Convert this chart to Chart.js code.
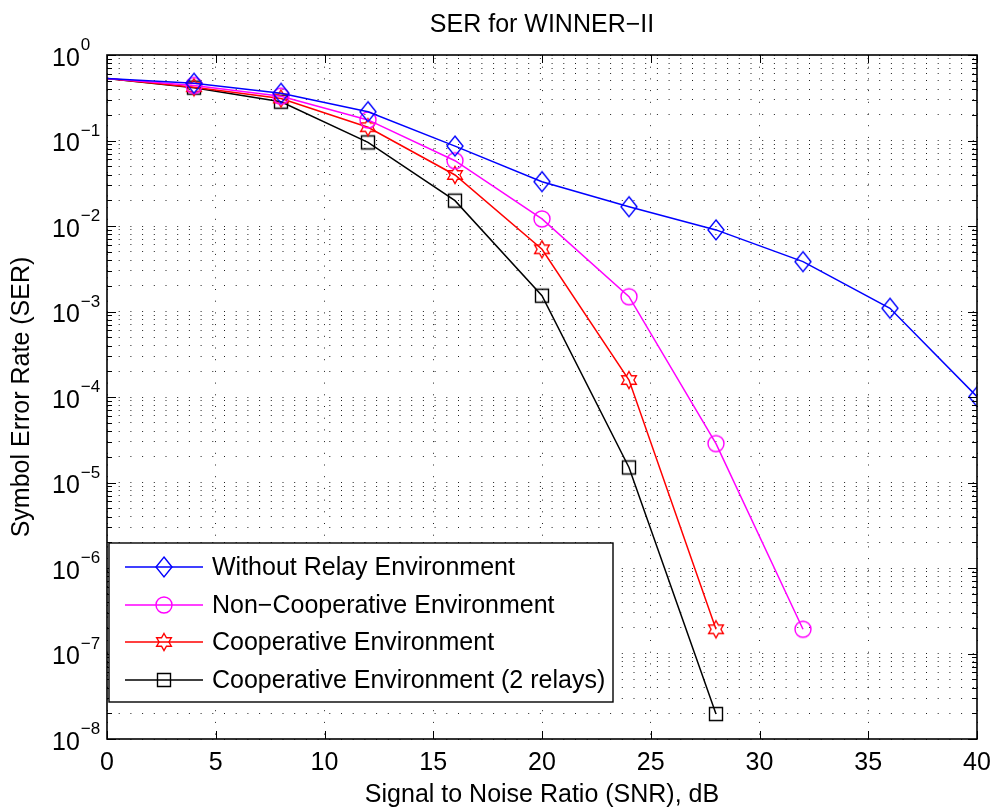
<!DOCTYPE html>
<html>
<head>
<meta charset="utf-8">
<script src="https://cdn.jsdelivr.net/npm/chart.js@4.4.1/dist/chart.umd.min.js"></script>
<style>
  html, body { margin: 0; padding: 0; background: #fff; }
  #wrap { width: 994px; height: 810px; }
</style>
</head>
<body>
<div id="wrap"><canvas id="ser" width="994" height="810"></canvas></div>
<script>
// SNR points (dB)
const snr = [0, 4, 8, 12, 16, 20, 24, 28, 32, 36, 40];

// SER
const serWithoutRelay = [0.53, 0.467, 0.356, 0.217, 0.086, 0.033, 0.0168, 0.0090, 0.00383, 0.00109, 1.01e-4];
const serNonCoop = [0.53, 0.44, 0.33, 0.174, 0.058, 0.0121, 0.00149, 2.85e-5, 1.92e-7];
const serCoop = [0.53, 0.42, 0.31, 0.143, 0.0395, 0.00534, 1.58e-4, 1.92e-7];
const serCoop2Relays = [0.53, 0.415, 0.284, 0.095, 0.0198, 0.00153, 1.5e-5, 1.96e-8];

const seriesLabels = [
  "Without Relay Environment",
  "Non\u2212Cooperative Environment",
  "Cooperative Environment",
  "Cooperative Environment (2 relays)"
];
const seriesColors = ["#0000ff", "#ff00ff", "#ff0000", "#000000"];
const xTicks = [0, 5, 10, 15, 20, 25, 30, 35, 40];
const yDecades = [-8, -7, -6, -5, -4, -3, -2, -1, 0];
const chartTitle = "SER for WINNER\u2212II";

const FONT = '"Liberation Sans", Arial, Helvetica, sans-serif';

// marker images (MATLAB style: diamond, circle, hexagram, square)
function makeMarker(shape, color) {
  const c = document.createElement("canvas");
  c.width = 24; c.height = 24;
  const g = c.getContext("2d");
  g.strokeStyle = color;
  g.lineWidth = 1.4;
  g.beginPath();
  if (shape === "diamond") {
    g.moveTo(12, 2); g.lineTo(20, 12); g.lineTo(12, 22); g.lineTo(4, 12); g.closePath();
  } else if (shape === "circle") {
    g.arc(12, 12, 8, 0, Math.PI * 2);
  } else if (shape === "hexagram") {
    const ro = 8.5, ri = ro / Math.sqrt(3);
    for (let i = 0; i < 12; i++) {
      const a = -Math.PI / 2 + i * Math.PI / 6;
      const r = i % 2 === 0 ? ro : ri;
      const px = 12 + r * Math.cos(a), py = 12 + r * Math.sin(a);
      if (i === 0) g.moveTo(px, py); else g.lineTo(px, py);
    }
    g.closePath();
  } else {
    g.rect(5.5, 5.5, 13, 13);
  }
  g.stroke();
  return c;
}

const markers = [
  makeMarker("diamond", seriesColors[0]),
  makeMarker("circle", seriesColors[1]),
  makeMarker("hexagram", seriesColors[2]),
  makeMarker("square", seriesColors[3])
];

function toPoints(values) {
  return values.map((v, i) => ({ x: snr[i], y: v }));
}

const allSeries = [serWithoutRelay, serNonCoop, serCoop, serCoop2Relays];

// all log ticks: 1..9 x 10^n
const logTicks = [];
yDecades.forEach(d => {
  for (let m = 1; m <= 9; m++) {
    if (d === 0 && m > 1) break;
    logTicks.push(m * Math.pow(10, d));
  }
});

const boxAndLegend = {
  id: "boxAndLegend",
  afterDraw(chart) {
    const ctx = chart.ctx;
    const a = chart.chartArea;
    const xs = chart.scales.x, ys = chart.scales.y;
    ctx.save();

    // title, centred over the axes
    ctx.fillStyle = "#000";
    ctx.font = "25px " + FONT;
    ctx.textAlign = "center";
    ctx.textBaseline = "middle";
    ctx.fillText(chartTitle, (a.left + a.right) / 2, 25);

    // axes box
    ctx.strokeStyle = "#000";
    ctx.lineWidth = 1.6;
    ctx.strokeRect(a.left, a.top, a.right - a.left, a.bottom - a.top);

    // inward ticks
    ctx.lineWidth = 1;
    ctx.beginPath();
    xTicks.forEach(t => {
      const px = Math.round(xs.getPixelForValue(t)) + 0.5;
      ctx.moveTo(px, a.bottom); ctx.lineTo(px, a.bottom - 8);
      ctx.moveTo(px, a.top); ctx.lineTo(px, a.top + 8);
    });
    logTicks.forEach(v => {
      const py = Math.round(ys.getPixelForValue(v)) + 0.5;
      const major = Math.abs(Math.log10(v) - Math.round(Math.log10(v))) < 1e-9;
      const len = major ? 9 : 5;
      ctx.moveTo(a.left, py); ctx.lineTo(a.left + len, py);
      ctx.moveTo(a.right, py); ctx.lineTo(a.right - len, py);
    });
    ctx.stroke();

    // y tick labels with superscript exponents
    ctx.fillStyle = "#000";
    ctx.textAlign = "left";
    ctx.textBaseline = "alphabetic";
    yDecades.forEach(d => {
      const py = ys.getPixelForValue(Math.pow(10, d));
      ctx.font = "25px " + FONT;
      ctx.fillText("10", 52, py + 10.5);
      const w = ctx.measureText("10").width;
      ctx.font = "17px " + FONT;
      const exp = d < 0 ? "\u2212" + (-d) : String(d);
      ctx.fillText(exp, 52 + w + 1, py - 5);
    });

    // legend
    const lx = 109, ly = 543, lw = 504, lh = 159;
    ctx.fillStyle = "#fff";
    ctx.fillRect(lx, ly, lw, lh);
    ctx.strokeStyle = "#000";
    ctx.lineWidth = 1.4;
    ctx.strokeRect(lx, ly, lw, lh);
    const rows = [567, 605, 642, 680];
    chart.data.datasets.forEach((ds, i) => {
      const ry = rows[i];
      ctx.strokeStyle = ds.borderColor;
      ctx.lineWidth = 1.5;
      ctx.beginPath();
      ctx.moveTo(125, ry); ctx.lineTo(203, ry);
      ctx.stroke();
      const m = markers[i];
      ctx.drawImage(m, 164 - m.width / 2, ry - m.height / 2);
      ctx.fillStyle = "#000";
      ctx.font = "25px " + FONT;
      ctx.textBaseline = "middle";
      ctx.fillText(ds.label, 212, ry + 1);
    });
    ctx.restore();
  }
};

const datasets = allSeries.map((vals, i) => ({
  label: seriesLabels[i],
  data: toPoints(vals),
  borderColor: seriesColors[i],
  backgroundColor: seriesColors[i],
  borderWidth: 1.5,
  pointStyle: markers[i],
  pointRadius: ctx => (ctx.dataIndex === 0 ? 0 : 8),
  tension: 0
}));

new Chart(document.getElementById("ser").getContext("2d"), {
  type: "line",
  data: { datasets },
  options: {
    responsive: false,
    animation: false,
    devicePixelRatio: 1,
    layout: { padding: { left: 0, right: 17, top: 55, bottom: 0 } },
    plugins: {
      legend: { display: false },
      tooltip: { enabled: false },
      title: { display: false }
    },
    scales: {
      x: {
        type: "linear",
        min: 0,
        max: 40,
        afterBuildTicks: axis => { axis.ticks = xTicks.map(v => ({ value: v })); },
        afterFit: axis => { axis.height = 71; axis.paddingLeft = 0; axis.paddingRight = 0; },
        grid: { color: "#222", lineWidth: 1, drawTicks: false },
        border: { display: false, dash: [1, 10.7] },
        ticks: {
          color: "#000",
          font: { family: FONT, size: 25 },
          padding: 9,
          maxRotation: 0
        },
        title: {
          display: true,
          text: "Signal to Noise Ratio (SNR), dB",
          color: "#000",
          font: { family: FONT, size: 25 },
          padding: { top: 0, bottom: 0 }
        }
      },
      y: {
        type: "logarithmic",
        min: 1e-8,
        max: 1,
        afterBuildTicks: axis => { axis.ticks = logTicks.map(v => ({ value: v })); },
        afterFit: axis => { axis.width = 107; axis.paddingTop = 0; axis.paddingBottom = 0; },
        grid: { color: "#222", lineWidth: 1, drawTicks: false },
        border: { display: false, dash: [1, 10.7] },
        ticks: { display: false },
        title: {
          display: true,
          text: "Symbol Error Rate (SER)",
          color: "#000",
          font: { family: FONT, size: 25 },
          padding: { top: 7, bottom: 0 }
        }
      }
    }
  },
  plugins: [boxAndLegend]
});
</script>
</body>
</html>
